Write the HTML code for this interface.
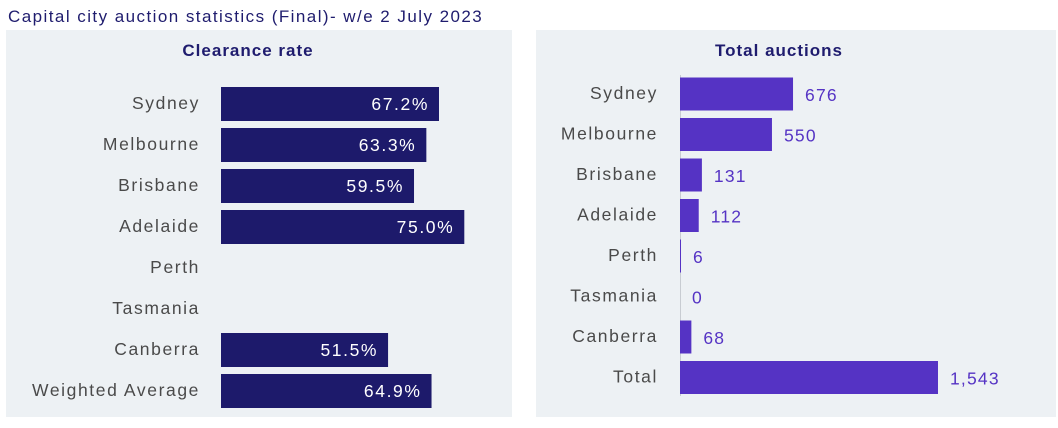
<!DOCTYPE html>
<html><head><meta charset="utf-8">
<style>
body{margin:0;width:1058px;height:423px;background:#fff;font-family:"Liberation Sans",sans-serif;overflow:hidden;position:relative}
</style></head><body>
<svg width="1058" height="423" xmlns="http://www.w3.org/2000/svg">
<text x="8" y="22" font-size="17" letter-spacing="1.45" fill="#1f1c6e">Capital city auction statistics (Final)- w/e 2 July 2023</text>
<rect x="6" y="30" width="506" height="387" fill="#edf1f4"/>
<rect x="536" y="30" width="520" height="387" fill="#edf1f4"/>
<text x="248" y="56" font-size="17" letter-spacing="1" font-weight="bold" fill="#1f1c6e" text-anchor="middle">Clearance rate</text>
<text x="779" y="56" font-size="17" letter-spacing="1" font-weight="bold" fill="#1f1c6e" text-anchor="middle">Total auctions</text>
<line x1="680.5" y1="75" x2="680.5" y2="396" stroke="#c8ccd2" stroke-width="1"/>
<g id="left"></g><g id="right"></g>
</svg>
<script>
const cityLabels=["Sydney","Melbourne","Brisbane","Adelaide","Perth","Tasmania","Canberra","Weighted Average"];
const clearanceValues=[67.2,63.3,59.5,75.0,null,null,51.5,64.9];
const auctionLabels=["Sydney","Melbourne","Brisbane","Adelaide","Perth","Tasmania","Canberra","Total"];
const auctionValues=[676,550,131,112,6,0,68,1543];
const NS="http://www.w3.org/2000/svg";
function mk(tag,attrs,parent,txt){const e=document.createElementNS(NS,tag);for(const k in attrs)e.setAttribute(k,attrs[k]);if(txt!=null)e.textContent=txt;parent.appendChild(e);return e;}
const L=document.getElementById('left'),R=document.getElementById('right');
const xL=v=>221+v*3.244, yL=i=>104+i*41;
cityLabels.forEach((c,i)=>{
  const t=mk('text',{x:200,y:yL(i)+5,'font-size':17.5,'letter-spacing':1.6,fill:'#4a4a4a','text-anchor':'end'},L,c);
  
  
  const v=clearanceValues[i];
  if(v!=null){
    const r=mk('rect',{x:221,y:yL(i)-17,width:xL(v)-221,height:34,fill:'#1d1a6b'},L);
    
    
    const l=mk('text',{x:xL(v)-10,y:yL(i)+6,'font-size':17.5,'letter-spacing':1.6,fill:'#fff','text-anchor':'end'},L,v.toFixed(1)+'%');
    
    
  }
});
const xR=v=>680+v*0.1672, yR=i=>94+i*40.5;
auctionLabels.forEach((c,i)=>{
  const t=mk('text',{x:658,y:yR(i)+5,'font-size':17.5,'letter-spacing':1.6,fill:'#4a4a4a','text-anchor':'end'},R,c);
  
  
  const v=auctionValues[i];
  const w=Math.max(xR(v)-680,0);
  const r=mk('rect',{x:680,y:yR(i)-16.5,width:w,height:33,fill:'#5533c4'},R);
  
  
  const l=mk('text',{x:680+w+12,y:yR(i)+7,'font-size':17.5,'letter-spacing':1.2,fill:'#5533c4'},R,v.toLocaleString('en-US'));
  
  
});
</script>
</body></html>
